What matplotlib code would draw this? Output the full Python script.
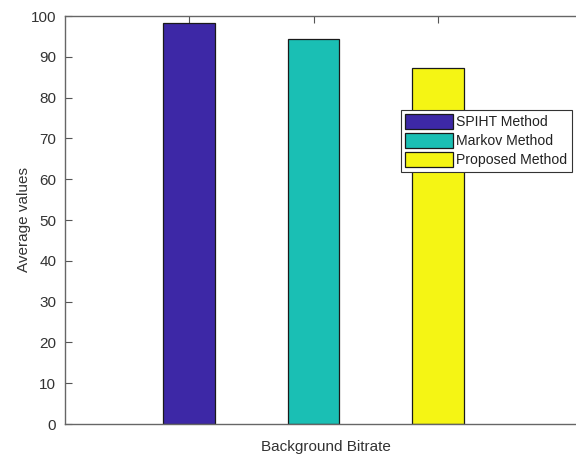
import matplotlib
matplotlib.use("Agg")
import matplotlib.pyplot as plt
from matplotlib.patches import Patch

methods = ["SPIHT Method", "Markov Method", "Proposed Method"]
values = [98.3, 94.4, 87.2]
colors = ["#3d28a6", "#1abfb4", "#f5f514"]
yticks = [0, 10, 20, 30, 40, 50, 60, 70, 80, 90, 100]

plt.rcParams['font.family'] = ['Liberation Sans', 'DejaVu Sans']

fig = plt.figure(figsize=(5.76, 4.55), dpi=100)
W, H = 576, 455
left_px, bottom_px, top_px = 64.5, 424, 16
unit = 124.5
xmax = 4.2
ax = fig.add_axes([left_px / W, (H - bottom_px) / H, xmax * unit / W, (bottom_px - top_px) / H])

positions = [1, 2, 3]
for p, v, c in zip(positions, values, colors):
    ax.bar(p, v, width=0.41, color=c, edgecolor="#1a1a1a", linewidth=0.9, zorder=2)

ax.set_xlim(0, xmax)
ax.set_ylim(0, 100)
ax.set_yticks(yticks)
ax.set_xticks(positions)
ax.set_xticklabels([])
ax.tick_params(axis="y", direction="in", length=5, width=0.8, colors="#555555",
               labelcolor="#333333", labelsize=11, pad=6)
ax.tick_params(axis="x", direction="in", length=5, width=0.8, colors="#555555",
               top=True, bottom=True)
for s in ["left", "bottom", "top"]:
    ax.spines[s].set_color("#666666")
    ax.spines[s].set_linewidth(1.0)
ax.spines["right"].set_visible(False)

ax.set_ylabel("Average values", fontsize=11, color="#333333", labelpad=0)
ax.set_xlabel("Background Bitrate", fontsize=11, color="#333333", labelpad=8)

handles = [Patch(facecolor=c, edgecolor="#1a1a1a", linewidth=0.9, label=m)
           for m, c in zip(methods, colors)]
leg = ax.legend(handles=handles, loc="upper left",
                bbox_to_anchor=((401 - left_px) / (xmax * unit), (bottom_px - 110) / (bottom_px - top_px)),
                frameon=True, fancybox=False, framealpha=1, edgecolor="#333333",
                fontsize=10.1, handlelength=3.4, handleheight=1.2, handletextpad=0.25,
                labelspacing=0.3, borderpad=0.3, borderaxespad=0)
leg.get_frame().set_linewidth(0.8)
for t in leg.get_texts():
    t.set_color("#222222")

fig.savefig("out.png", dpi=100)
